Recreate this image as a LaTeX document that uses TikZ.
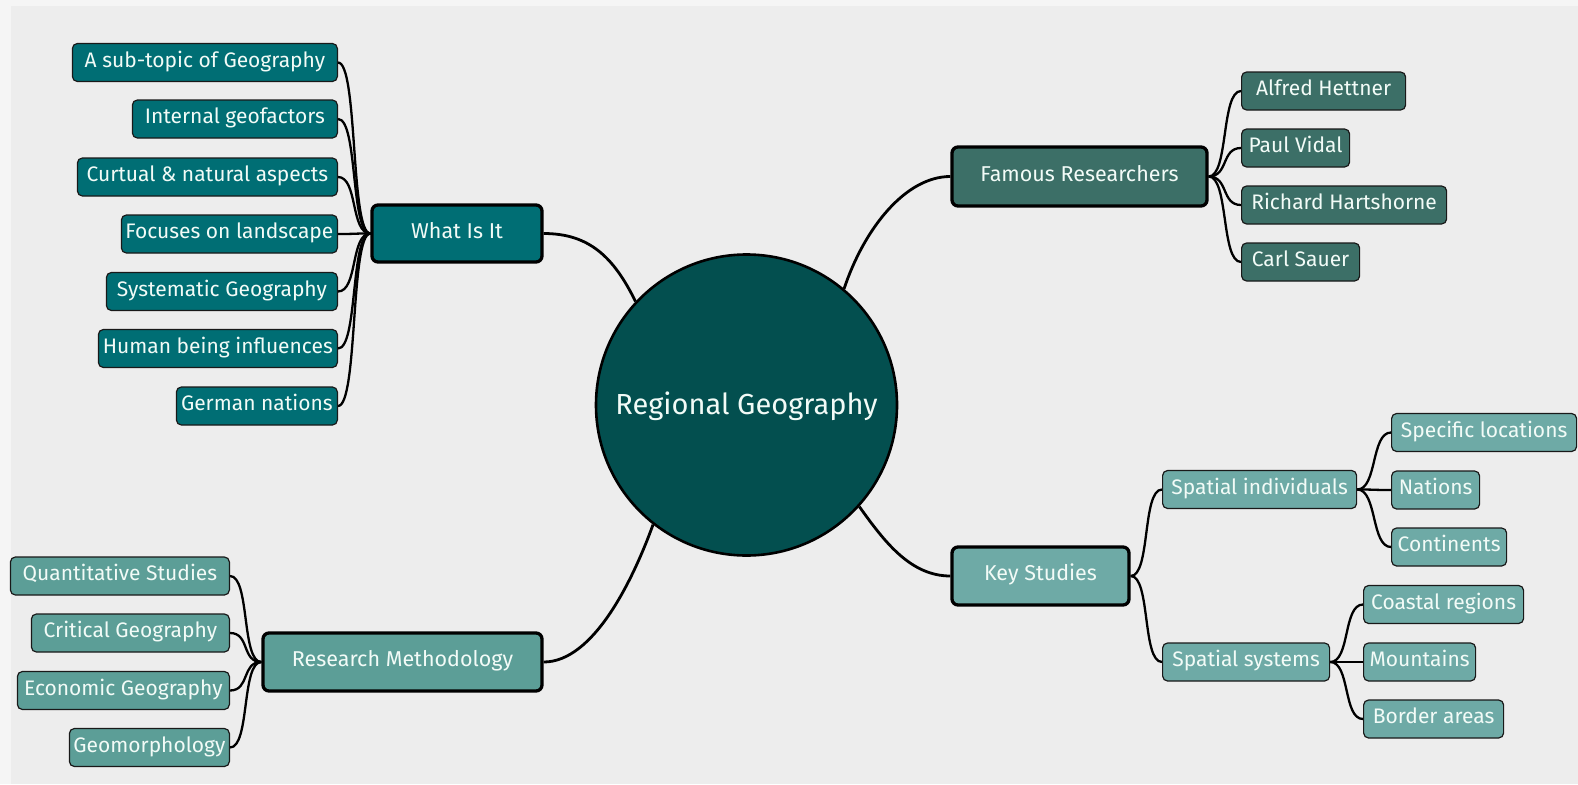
\documentclass[tikz,border=0pt]{standalone}
\usepackage{fontspec}
\setmainfont{Fira Sans}
\pgfdeclarelayer{bg}
\pgfdeclarelayer{edges}
\pgfsetlayers{bg,edges,main}
\definecolor{bgout}{HTML}{F5F5F5}
\definecolor{bgc}{HTML}{EDEDED}
\definecolor{core}{HTML}{034F4F}
\definecolor{cA}{HTML}{006E74}
\definecolor{cB}{HTML}{3C6F67}
\definecolor{cC}{HTML}{5C9E97}
\definecolor{cD}{HTML}{6EAAA6}
\definecolor{txt}{HTML}{F2FBF7}
\tikzset{
  leaf/.style={draw=black!90, line width=1.2pt, rounded corners=5pt, minimum height=38pt,
    inner sep=0pt, text=txt, font=\fontsize{21}{24}\selectfont, text height=14pt, text depth=5pt},
  branch/.style={draw=black, line width=3.3pt, rounded corners=6pt, inner sep=0pt,
    text=txt, font=\fontsize{21.5}{25}\selectfont, text height=14pt, text depth=5pt},
  link/.style={line width=2.3pt, black},
  mainlink/.style={line width=2.8pt, black},
}
\begin{document}
\begin{tikzpicture}[x=1pt,y=-1pt]
\useasboundingbox (0,0) rectangle (1578,784);
\begin{pgfonlayer}{bg}
  \fill[bgout] (0,0) rectangle (1578,784);
  \fill[bgc] (11,6) rectangle (1578,784);
\end{pgfonlayer}

% centre
\node[circle, draw=black, line width=2.6pt, fill=core, minimum size=301pt, inner sep=0pt,
  text=txt, font=\fontsize{29}{34}\selectfont, text height=24pt, text depth=6pt] (c) at (746.5,405) {Regional Geography};

% What Is It
\node[branch, fill=cA, minimum width=170pt, minimum height=57pt] (wii) at (457,233.5) {What Is It};
\node[leaf, fill=cA, minimum width=265pt, anchor=east] (a1) at (338,62.5) {A sub-topic of Geography};
\node[leaf, fill=cA, minimum width=205pt, anchor=east] (a2) at (338,119) {Internal geofactors};
\node[leaf, fill=cA, minimum width=260pt, anchor=east] (a3) at (338,177) {Curtual \& natural aspects};
\node[leaf, fill=cA, minimum width=216pt, anchor=east] (a4) at (338,234) {Focuses on landscape};
\node[leaf, fill=cA, minimum width=231pt, anchor=east] (a5) at (338,291.5) {Systematic Geography};
\node[leaf, fill=cA, minimum width=239pt, anchor=east] (a6) at (338,348.5) {Human being influences};
\node[leaf, fill=cA, minimum width=161pt, anchor=east] (a7) at (338,406) {German nations};

% Famous Researchers
\node[branch, fill=cB, minimum width=255pt, minimum height=59pt] (fr) at (1079.5,176.5) {Famous Researchers};
\node[leaf, fill=cB, minimum width=164pt, anchor=west] (b1) at (1241,91) {Alfred Hettner};
\node[leaf, fill=cB, minimum width=108pt, anchor=west] (b2) at (1241,148) {Paul Vidal};
\node[leaf, fill=cB, minimum width=205pt, anchor=west] (b3) at (1241,205) {Richard Hartshorne};
\node[leaf, fill=cB, minimum width=118pt, anchor=west] (b4) at (1241,262) {Carl Sauer};

% Key Studies
\node[branch, fill=cD, minimum width=177pt, minimum height=58pt] (ks) at (1040.5,576) {Key Studies};
\node[leaf, fill=cD, minimum width=194pt, anchor=west] (si) at (1162,489.5) {Spatial individuals};
\node[leaf, fill=cD, minimum width=167pt, anchor=west] (ss) at (1162,662) {Spatial systems};
\node[leaf, fill=cD, minimum width=185pt, anchor=west] (d1) at (1391,432.5) {Specific locations};
\node[leaf, fill=cD, minimum width=88pt, anchor=west] (d2) at (1391,490) {Nations};
\node[leaf, fill=cD, minimum width=115pt, anchor=west] (d3) at (1391,547) {Continents};
\node[leaf, fill=cD, minimum width=160pt, anchor=west] (e1) at (1363,604.5) {Coastal regions};
\node[leaf, fill=cD, minimum width=112pt, anchor=west] (e2) at (1363,662) {Mountains};
\node[leaf, fill=cD, minimum width=140pt, anchor=west] (e3) at (1363,719) {Border areas};

% Research Methodology
\node[branch, fill=cC, minimum width=279pt, minimum height=58pt] (rm) at (402.5,662) {Research Methodology};
\node[leaf, fill=cC, minimum width=219pt, anchor=east] (r1) at (230,576) {Quantitative Studies};
\node[leaf, fill=cC, minimum width=198pt, anchor=east] (r2) at (230,633) {Critical Geography};
\node[leaf, fill=cC, minimum width=212pt, anchor=east] (r3) at (230,690.5) {Economic Geography};
\node[leaf, fill=cC, minimum width=160pt, anchor=east] (r4) at (230,747.5) {Geomorphology};

\begin{pgfonlayer}{edges}
  \draw[mainlink] (wii.east) .. controls +(45,0) and +(-22,-45) .. (c.137);
  \draw[mainlink] (c.50) .. controls +(20,-60) and +(-45,0) .. (fr.west);
  \draw[mainlink] (c.318) .. controls +(25,35) and +(-40,0) .. (ks.west);
  \draw[mainlink] (rm.east) .. controls +(50,0) and +(-20,55) .. (c.232);
  \foreach \n in {a1,a2,a3,a4,a5,a6,a7}
    \draw[link] (\n.east) .. controls +(20,0) and +(-20,0) .. (wii.west);
  \foreach \n in {r1,r2,r3,r4}
    \draw[link] (\n.east) .. controls +(20,0) and +(-20,0) .. (rm.west);
  \foreach \n in {b1,b2,b3,b4}
    \draw[link] (fr.east) .. controls +(20,0) and +(-20,0) .. (\n.west);
  \foreach \n in {si,ss}
    \draw[link] (ks.east) .. controls +(20,0) and +(-20,0) .. (\n.west);
  \foreach \n in {d1,d2,d3}
    \draw[link] (si.east) .. controls +(20,0) and +(-20,0) .. (\n.west);
  \foreach \n in {e1,e2,e3}
    \draw[link] (ss.east) .. controls +(20,0) and +(-20,0) .. (\n.west);
\end{pgfonlayer}
\end{tikzpicture}
\end{document}
